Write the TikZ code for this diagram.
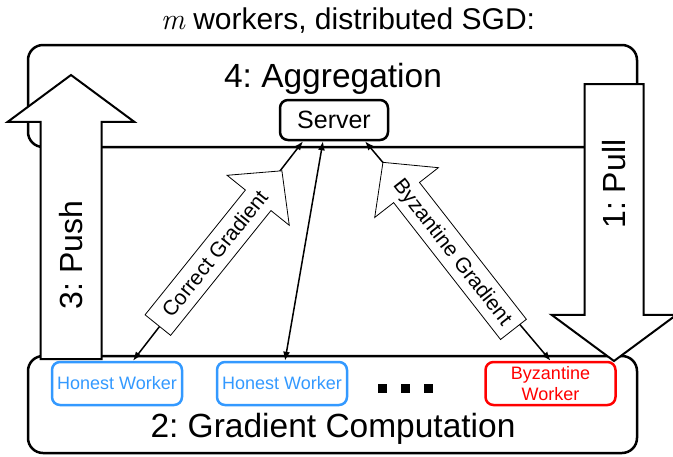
\documentclass[tikz,border=0pt]{standalone}
\usepackage{fontspec}
\setmainfont{Liberation Sans}
\newfontfamily\lmfont{Latin Modern Roman}
\usepackage{xcolor}
\usetikzlibrary{shapes.arrows,arrows.meta,calc}
\definecolor{honestblue}{RGB}{51,153,255}
\definecolor{byzred}{RGB}{255,0,0}
\frenchspacing

\begin{document}
\begin{tikzpicture}[
    x=1pt, y=-1pt,
    stage/.style={draw, line width=2.5pt, rounded corners=15pt},
    stagelabel/.style={anchor=base, font=\fontsize{33.5}{40}\selectfont},
    server/.style={rectangle, draw, line width=2.5pt, rounded corners=8pt, minimum width=108pt, minimum height=40pt, font=\fontsize{25}{30}\selectfont},
    worker/.style={rectangle, draw, line width=2.5pt, rounded corners=8pt, minimum width=130pt, minimum height=43pt, inner sep=0pt, align=center, font=\fontsize{18}{21}\selectfont},
    phase/.style={single arrow, draw, fill=white, line width=2pt, inner xsep=0pt, inner ysep=18pt, text height=23pt, text depth=0pt, font=\fontsize{32}{38}\selectfont, single arrow head extend=33pt, single arrow tip angle=107, anchor=tail},
    grad/.style={single arrow, draw, fill=white, line width=0.8pt, inner xsep=0pt, inner ysep=8pt, text height=15pt, text depth=1pt, font=\fontsize{21}{25}\selectfont, single arrow tip angle=93},
    link/.style={{Latex[length=9pt,width=7pt]}-{Latex[length=9pt,width=7pt]}, line width=1.5pt},
    dot/.style={rectangle, fill, minimum size=9pt, inner sep=0pt}
]
    \useasboundingbox (0,0) rectangle (673,456);

    % title
    \node[anchor=base, font=\fontsize{30}{36}\selectfont] (title) at (348,29) {{\lmfont\itshape m} workers, distributed SGD:};

    % the two stages
    \draw[stage] (28,45) rectangle (637,147);
    \draw[stage] (28,356) rectangle (637,453);
    \node[stagelabel] (agg) at (333,87) {4: Aggregation};
    \node[stagelabel] (comp) at (333,437) {2: Gradient Computation};

    % push / pull (text sits on the shaft, not the middle)
    \node[phase, rotate=90, minimum height=284pt] (push) at (71,360) {3: Push\hspace*{54pt}};
    \node[phase, rotate=90, shape border rotate=180, minimum height=277pt, inner ysep=17pt] (pull) at (614,83) {\hspace*{55pt}1: Pull};

    % server and workers
    \node[server] (server) at (334,120) {Server};
    \node[worker, draw=honestblue, text=honestblue] (hw1) at (117,383.5) {Honest Worker};
    \node[worker, draw=honestblue, text=honestblue] (hw2) at (282,383.5) {Honest Worker};
    \node[worker, draw=byzred, text=byzred] (byz) at (550.5,383.5) {Byzantine\\Worker};
    \foreach \i/\x in {1/382,2/405,3/428}
        \node[dot] (dot\i) at (\x,388) {};

    % links
    \draw[link] ($(hw1.north)+(16,0)$) -- ($(server.south)+(-31,0)$);
    \draw[link] ($(hw2.north)+(3,0)$) -- ($(server.south)+(-11,0)$);
    \draw[link] (byz.north) -- ($(server.south)+(31,0)$);

    % gradients
    \node[grad, rotate=51.2, minimum height=198pt, single arrow head extend=23.5pt] (cgrad) at (215,254) {Correct Gradient};
    \node[grad, rotate=-52, shape border rotate=180, minimum height=212pt, single arrow head extend=24pt] (bgrad) at (453,252) {Byzantine Gradient};
\end{tikzpicture}
\end{document}
